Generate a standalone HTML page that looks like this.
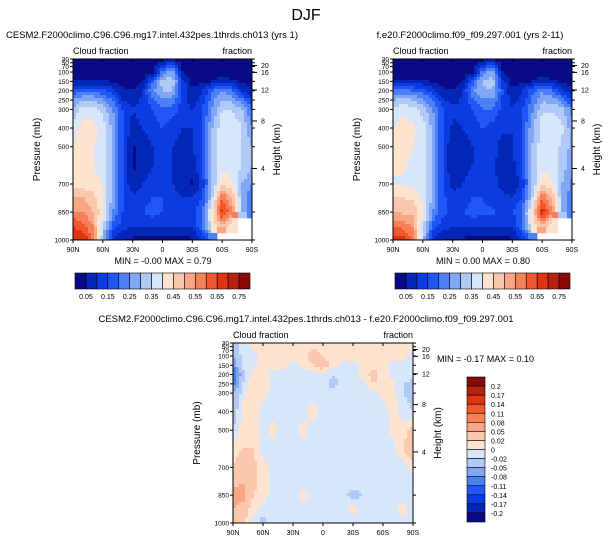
<!DOCTYPE html>
<html><head><meta charset="utf-8">
<style>
body{margin:0;background:#fff;}
svg{display:block;font-family:"Liberation Sans",Arial,sans-serif;}
</style></head>
<body>
<svg id="fig" width="612" height="544" viewBox="0 0 612 544">
<text x="306" y="20" font-size="16" text-anchor="middle">DJF</text>
</svg>
<script>
const lats = [90,80,70,60,50,40,30,20,10,0,-10,-20,-30,-40,-50,-60,-70,-80,-90];
const levels = [30,100,150,200,250,300,400,500,600,700,775,850,925,1000];
const cloudA = [
[.02,.02,.02,.02,.02,.02,.02,.02,.02,.03,.03,.02,.02,.02,.02,.02,.02,.02,.02],
[.02,.02,.02,.02,.02,.02,.02,.02,.03,.22,.28,.05,.02,.02,.02,.02,.02,.02,.02],
[.05,.05,.06,.06,.04,.03,.03,.04,.18,.32,.34,.12,.03,.03,.05,.08,.06,.04,.03],
[.17,.18,.18,.17,.12,.06,.05,.1,.25,.3,.3,.15,.05,.1,.2,.25,.2,.1,.05],
[.25,.3,.3,.26,.2,.1,.07,.11,.18,.24,.22,.13,.07,.12,.23,.3,.28,.22,.12],
[.3,.38,.38,.33,.25,.15,.1,.12,.15,.2,.18,.12,.1,.15,.25,.35,.35,.3,.2],
[.38,.42,.42,.38,.28,.15,.08,.1,.12,.15,.12,.1,.1,.15,.3,.38,.4,.35,.25],
[.4,.42,.4,.38,.28,.15,.04,.08,.1,.12,.1,.08,.1,.15,.3,.38,.38,.35,.3],
[.4,.42,.4,.38,.28,.15,.04,.07,.1,.12,.1,.07,.07,.15,.3,.38,.38,.35,.3],
[.42,.42,.42,.4,.28,.15,.06,.1,.12,.12,.1,.08,.04,.12,.3,.45,.4,.3,.25],
[.5,.5,.47,.4,.28,.15,.12,.12,.15,.15,.12,.1,.1,.15,.35,.6,.5,.3,.2],
[.55,.55,.5,.42,.25,.15,.13,.15,.18,.15,.15,.13,.13,.2,.42,.68,.55,.3,.2],
[.65,.62,.55,.35,.18,.12,.1,.1,.1,.1,.1,.1,.1,.2,.4,.5,.4,null,null],
[.7,.7,.6,.3,.1,.05,.04,.03,.03,.03,.03,.03,.04,.1,.2,null,null,null,null]
];
const cloudB = [
[.02,.02,.02,.02,.02,.02,.02,.02,.02,.03,.03,.02,.02,.02,.02,.02,.02,.02,.02],
[.02,.02,.02,.02,.02,.02,.02,.02,.03,.22,.28,.05,.02,.02,.02,.02,.02,.02,.02],
[.05,.05,.06,.06,.04,.03,.03,.04,.18,.3,.33,.12,.03,.03,.05,.08,.06,.04,.03],
[.22,.22,.2,.18,.12,.06,.05,.1,.24,.29,.3,.16,.06,.1,.18,.24,.2,.11,.06],
[.3,.32,.3,.26,.2,.11,.08,.11,.18,.24,.24,.14,.08,.12,.21,.29,.28,.23,.13],
[.36,.39,.37,.33,.25,.16,.11,.12,.15,.2,.2,.13,.1,.14,.24,.34,.34,.32,.23],
[.4,.42,.41,.38,.28,.16,.09,.1,.12,.15,.13,.11,.1,.15,.29,.38,.39,.36,.27],
[.41,.42,.4,.38,.28,.16,.05,.08,.1,.12,.12,.08,.1,.15,.3,.38,.38,.34,.28],
[.4,.41,.39,.38,.28,.16,.05,.08,.1,.12,.11,.08,.08,.15,.3,.38,.38,.33,.27],
[.4,.39,.39,.38,.28,.16,.07,.1,.12,.12,.11,.09,.05,.12,.3,.45,.4,.3,.24],
[.46,.45,.44,.39,.28,.16,.13,.12,.15,.15,.13,.11,.11,.15,.35,.6,.5,.3,.2],
[.49,.49,.48,.41,.25,.16,.14,.14,.18,.16,.16,.14,.15,.21,.43,.69,.56,.3,.2],
[.6,.58,.54,.36,.18,.13,.11,.1,.11,.11,.11,.11,.1,.2,.4,.5,.4,null,null],
[.67,.68,.6,.33,.1,.05,.04,.04,.03,.03,.03,.03,.04,.1,.2,null,null,null,null]
];
const cloudDiff = [
[-.04,-.01,.01,.01,.01,.01,.01,.01,.01,.01,.01,.01,.01,.01,.01,.01,.01,.01,.01],
[-.05,-.01,-.01,.01,.01,.01,.01,.01,.03,.02,.01,.01,.01,.01,.01,.01,.01,.01,-.01],
[-.08,-.01,-.01,.01,.01,.01,-.01,.01,.02,.04,.01,-.01,-.01,.01,.01,.01,-.01,-.01,-.01],
[-.12,-.03,.01,.01,-.01,-.01,-.01,-.01,-.01,-.01,-.02,-.01,-.01,.01,.03,.01,-.01,-.01,-.01],
[-.1,-.02,.02,.01,-.01,-.01,-.01,-.01,-.01,-.01,-.03,-.01,-.01,-.01,.02,.01,.01,-.02,-.03],
[-.05,-.01,.02,.01,-.01,-.01,-.01,-.01,-.01,-.01,-.01,-.01,-.01,-.01,-.01,.01,.01,-.02,-.03],
[-.04,.01,.02,-.01,-.01,-.01,-.01,-.01,.01,-.01,-.01,-.02,-.01,-.01,-.01,-.01,.01,-.01,-.02],
[-.02,.01,.02,-.01,.01,-.01,-.01,.01,-.01,-.01,-.02,-.01,-.01,-.01,-.01,-.01,.01,.01,.03],
[.01,.02,.02,-.01,-.01,-.01,-.01,-.01,-.01,-.01,-.01,-.01,-.01,-.01,-.01,-.01,-.01,.02,.05],
[.02,.04,.03,.01,-.01,-.01,-.01,-.01,-.01,-.01,-.01,-.01,-.01,-.01,-.01,-.01,-.01,-.01,.01],
[.04,.05,.03,.01,-.01,-.02,-.01,-.01,-.01,-.01,-.01,-.01,-.01,-.01,-.01,-.01,-.01,-.01,-.01],
[.06,.06,.02,.01,-.01,-.02,-.01,.01,-.01,-.01,-.01,-.01,-.03,-.02,-.01,-.01,-.01,-.01,-.01],
[.05,.04,.01,-.01,-.01,-.01,-.01,-.01,-.01,-.01,-.01,-.01,.01,-.01,-.01,-.01,-.01,.01,-.01],
[.03,.02,-.01,-.03,-.01,-.01,-.01,-.01,-.01,-.01,-.01,-.01,-.01,-.01,-.01,-.01,-.01,-.01,-.01]
];
const boundsA = [.05,.1,.15,.2,.25,.3,.35,.4,.45,.5,.55,.6,.65,.7,.75];
const labelsA = ["0.05","0.15","0.25","0.35","0.45","0.55","0.65","0.75"];
const boundsD = [-.2,-.17,-.14,-.11,-.08,-.05,-.02,0,.02,.05,.08,.11,.14,.17,.2];
const labelsD = ["0.2","0.17","0.14","0.11","0.08","0.05","0.02","0","-0.02","-0.05","-0.08","-0.11","-0.14","-0.17","-0.2"];
const xTicks = ["90N","60N","30N","0","30S","60S","90S"];
const pTicks = [30,50,70,100,150,200,250,300,400,500,700,850,1000];
const hTicks = [20,16,12,8,4];
const hTickP = [65,102,196,362,617];

const cols = ["#0a0a86","#0326b6","#0a3ce0","#2158f5","#4c80f5","#80a6f4","#b1c9f6","#d7e6f8","#fde3d0","#fcc8ad","#f9a687","#f5805a","#f2582b","#de3412","#b3230f","#8a0909"];
const NS="http://www.w3.org/2000/svg";
const fig=document.getElementById('fig');
function el(t,a,p){const e=document.createElementNS(NS,t);for(const k in a)e.setAttribute(k,a[k]);(p||fig).appendChild(e);return e;}
function txt(x,y,s,size,anchor,p,rot){const e=el('text',{x:x,y:y,'font-size':size,'text-anchor':anchor||'start'},p);if(rot)e.setAttribute('transform','rotate(-90 '+x+' '+y+')');e.textContent=s;return e;}
function colorFor(v,b){if(v===null||v===undefined||isNaN(v))return null;let i=0;while(i<b.length&&v>=b[i])i++;return cols[i];}
function sample(data,lat,p){
  const nr=Math.min(levels.length,data.length);
  let r=0;while(r<nr-2&&p>levels[r+1])r++;
  let fr=(p-levels[r])/(levels[r+1]-levels[r]);fr=Math.max(0,Math.min(1,fr));
  let c=Math.min(17,Math.floor((90-lat)/10));let fc=((90-lat)-c*10)/10;
  const a=data[r][c],b=data[r][c+1],d=data[r+1][c],e=data[r+1][c+1];
  if(a===null||b===null||d===null||e===null){
    const n=[[a,(1-fr)*(1-fc)],[b,(1-fr)*fc],[d,fr*(1-fc)],[e,fr*fc]].sort((x,y)=>y[1]-x[1])[0][0];
    return n;}
  return a*(1-fr)*(1-fc)+b*(1-fr)*fc+d*fr*(1-fc)+e*fr*fc;
}
function plot(name,X,Y,W,H,data,bounds,title,tx){
  const g=el('g',{},fig);
  
  
  const ys=p=>Y+(p-30)/970*H;
  const st=3;
  for(let py=0;py<H;py+=st){for(let px=0;px<W;px+=st){
    const lat=90-(px+st/2)/W*180,p=30+(py+st/2)/H*970;
    const c=colorFor(sample(data,lat,p),bounds);if(!c)continue;
    const r=el('rect',{x:X+px,y:Y+py,width:Math.min(st,W-px)+0.3,height:Math.min(st,H-py)+0.3,fill:c},g);
    
    
  }}
  el('rect',{x:X,y:Y,width:W,height:H,fill:'none',stroke:'#000','stroke-width':1},g);
  const t=txt(tx,Y-21,title,9.5,'middle',g);
  const l1=txt(X,Y-5,'Cloud fraction',9,'start',g);
  const l2=txt(X+W,Y-5,'fraction',9,'end',g);
  xTicks.forEach((s,i)=>{const x=X+i*W/6;el('line',{x1:x,y1:Y+H,x2:x,y2:Y+H+3,stroke:'#000'},g);el('line',{x1:x,y1:Y,x2:x,y2:Y+3,stroke:'#000'},g);
    const k=txt(x,Y+H+12,s,7,'middle',g);});
  pTicks.forEach(p=>{const y=ys(p);el('line',{x1:X-3,y1:y,x2:X,y2:y,stroke:'#000'},g);el('line',{x1:X+W,y1:y,x2:X+W+3,y2:y,stroke:'#000'},g);
    const k=txt(X-4,y+2.5,String(p),6.5,'end',g);});
  hTicks.forEach((h,i)=>{const y=ys(hTickP[i]);el('line',{x1:X+W,y1:y,x2:X+W+5,y2:y,stroke:'#000'},g);
    const k=txt(X+W+9,y+2.5,String(h),7,'start',g);});
  const a=txt(X-33,Y+H/2,'Pressure (mb)',10,'middle',g,true);
  const b=txt(X+W+28,Y+H/2,'Height (km)',10,'middle',g,true);
}
function hbar(name,X,Y,W,H){
  const g=el('g',{},fig);
  
  
  const bw=W/16;
  cols.forEach((c,i)=>{const r=el('rect',{x:X+i*bw,y:Y,width:bw,height:H,fill:c,stroke:'#000','stroke-width':0.6},g);
    });
  labelsA.forEach((s,i)=>{const k=txt(X+(1+2*i)*bw,Y+H+10,s,7,'middle',g);});
}
plot('plot-model',73,59,179,181,cloudA,boundsA,'CESM2.F2000climo.C96.C96.mg17.intel.432pes.1thrds.ch013 (yrs 1)',152);
plot('plot-obs',393,59,179,181,cloudB,boundsA,'f.e20.F2000climo.f09_f09.297.001 (yrs 2-11)',470);
plot('plot-diff',233,343,180,180,cloudDiff,boundsD,'CESM2.F2000climo.C96.C96.mg17.intel.432pes.1thrds.ch013 - f.e20.F2000climo.f09_f09.297.001',306);
let m=txt(163,264,'MIN =  -0.00  MAX =   0.79',9,'middle');
m=txt(483,264,'MIN =   0.00  MAX =   0.80',9,'middle');
m=txt(437,362,'MIN =  -0.17  MAX =   0.10',9,'start');
hbar('colorbar-model',75,273,175,16);
hbar('colorbar-obs',395,273,175,16);
(function(){const g=el('g',{},fig);
  
  
  const X=467,Y=377,W=18,H=145,bh=H/16;
  cols.slice().reverse().forEach((c,i)=>{const r=el('rect',{x:X,y:Y+i*bh,width:W,height:bh,fill:c,stroke:'#000','stroke-width':0.6},g);
    });
  labelsD.forEach((s,i)=>{const k=txt(X+W+6,Y+(i+1)*bh+3,s,7,'start',g);});
})();
</script>
</body></html>
